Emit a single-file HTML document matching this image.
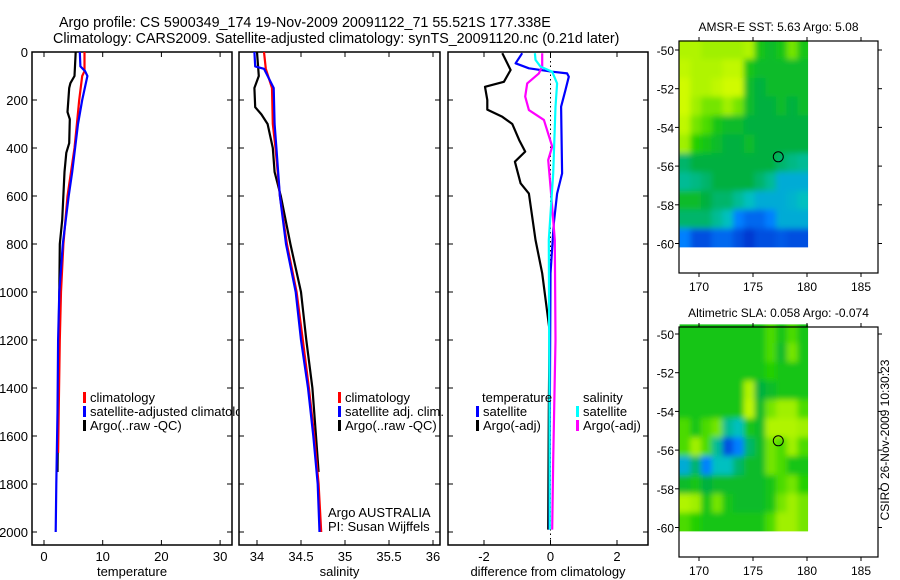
<!DOCTYPE html>
<html><head><meta charset="utf-8"><style>
body{margin:0;background:#fff;}
svg{display:block;font-family:"Liberation Sans",sans-serif;}
</style></head><body>
<svg id="fig" width="900" height="580" xmlns="http://www.w3.org/2000/svg">
<defs>
<filter id="blur" x="-5%" y="-5%" width="110%" height="110%"><feGaussianBlur stdDeviation="3"/></filter>
<clipPath id="leg1clip"><rect x="0" y="380" width="239" height="60"/></clipPath>
</defs>
<rect width="900" height="580" fill="#fff"/>
<text x="59" y="27" font-size="14.3">Argo profile: CS 5900349_174 19-Nov-2009 20091122_71 55.521S 177.338E</text>
<text x="53" y="43" font-size="14.3">Climatology: CARS2009. Satellite-adjusted climatology: synTS_20091120.nc (0.21d later)</text>
<g id="plots"></g>
<text transform="translate(889,440) rotate(-90)" font-size="12" text-anchor="middle">CSIRO 26-Nov-2009 10:30:23</text>
</svg>
<script>
// ---------- profile data ----------
const tempClimDepth=[0,80,100,200,300,400,500,600,800,1000,1200,1500,1670];
const tempClim=[6.9,6.9,6.5,6.0,5.6,5.2,4.6,4.0,3.3,2.9,2.7,2.5,2.4];
const tempSatDepth=[0,60,80,100,200,300,400,500,600,800,1000,1200,1500,1800,2000];
const tempSat=[6.1,6.2,7.0,7.4,6.5,5.8,5.3,4.8,4.2,3.2,2.6,2.4,2.3,2.1,2.0];
const tempArgoDepth=[0,100,130,150,250,280,380,420,500,700,800,1000,1200,1500,1750];
const tempArgo=[5.4,5.2,4.5,4.3,4.0,4.4,4.3,3.8,3.5,3.1,2.7,2.6,2.5,2.4,2.3];
const salClimDepth=[0,70,150,300,400,600,800,1000,1200,1400,1600,1800,2000];
const salClim=[34.08,34.1,34.17,34.18,34.21,34.26,34.34,34.45,34.52,34.59,34.65,34.70,34.73];
const salSatDepth=[0,60,70,150,300,400,600,800,1000,1200,1400,1600,1800,2000];
const salSat=[33.97,33.98,34.08,34.19,34.2,34.22,34.26,34.33,34.44,34.5,34.58,34.64,34.69,34.71];
const salArgoDepth=[0,100,150,230,260,300,400,500,600,800,1000,1200,1400,1600,1750];
const salArgo=[34.0,34.02,33.97,33.98,34.05,34.12,34.18,34.2,34.27,34.38,34.5,34.56,34.63,34.67,34.70];
const dTempArgoDepth=[5,75,124,145,200,240,270,300,367,415,457,547,590,783,922,1158,1500,1990];
const dTempArgo=[-1.45,-1.2,-1.4,-1.97,-1.9,-1.9,-1.45,-1.15,-0.94,-0.76,-1.07,-0.9,-0.65,-0.45,-0.25,-0.03,-0.05,-0.07];
const dTempSatDepth=[5,47,68,82,89,103,158,228,506,590,714,922,1500,1990];
const dTempSat=[-0.85,-1.05,-0.65,0.05,0.5,0.55,0.45,0.32,0.35,0.2,0.1,0.0,-0.02,-0.03];
const dSalSatDepth=[5,33,61,82,131,228,506,783,1500,1990];
const dSalSat=[-0.47,-0.45,-0.3,0.05,0.2,0.15,0.08,-0.05,-0.03,-0.02];
const dSalArgoDepth=[5,60,89,131,186,242,283,394,450,561,783,1200,1700,1990];
const dSalArgo=[-0.25,-0.25,-0.35,-0.7,-0.76,-0.65,-0.2,0.05,-0.07,0.0,0.13,0.15,0.08,0.05];
const depthTicks=[0,200,400,600,800,1000,1200,1400,1600,1800,2000];
const tempTicks=[0,10,20,30];
const salTicks=[34,34.5,35,35.5,36];
const diffTicks=[-2,0,2];
// ---------- map data (12 lon cols x 11 lat rows, 0..1 colour index) ----------
const mapLonTicks=[170,175,180,185];
const mapLatTicks=[-50,-52,-54,-56,-58,-60];
const sstGrid=[
[0.85,0.85,0.8,0.8,0.8,0.8,0.85,0.6,0.55,0.6,0.75,0.6],
[0.9,0.85,0.85,0.85,0.9,0.9,0.6,0.55,0.55,0.55,0.55,0.55],
[0.95,0.85,0.85,0.9,0.95,0.95,0.55,0.5,0.55,0.55,0.55,0.55],
[0.95,0.8,0.75,0.75,0.8,0.75,0.55,0.5,0.5,0.55,0.5,0.55],
[0.9,0.75,0.7,0.6,0.55,0.55,0.5,0.5,0.5,0.5,0.5,0.5],
[0.8,0.65,0.6,0.55,0.5,0.5,0.55,0.5,0.5,0.5,0.5,0.5],
[0.45,0.5,0.5,0.5,0.5,0.5,0.5,0.5,0.5,0.45,0.42,0.4],
[0.4,0.42,0.45,0.5,0.5,0.5,0.5,0.45,0.4,0.3,0.3,0.3],
[0.55,0.55,0.5,0.45,0.45,0.4,0.35,0.3,0.3,0.3,0.32,0.35],
[0.45,0.45,0.45,0.4,0.35,0.2,0.15,0.15,0.2,0.3,0.3,0.3],
[0.2,0.1,0.1,0.15,0.15,0.1,0.05,0.1,0.1,0.12,0.1,0.1]];
const slaGrid=[
[0.6,0.6,0.6,0.6,0.6,0.6,0.6,0.6,0.7,0.6,0.7,0.6],
[0.6,0.6,0.6,0.6,0.6,0.6,0.6,0.6,0.7,0.55,0.75,0.6],
[0.6,0.6,0.6,0.6,0.6,0.6,0.6,0.6,0.65,0.6,0.6,0.6],
[0.6,0.6,0.6,0.6,0.6,0.6,0.85,0.5,0.55,0.6,0.6,0.6],
[0.6,0.6,0.6,0.6,0.6,0.6,0.9,0.55,0.75,0.8,0.8,0.7],
[0.7,0.6,0.7,0.75,0.4,0.35,0.6,0.55,0.85,0.85,0.85,0.8],
[0.7,0.8,0.7,0.4,0.1,0.2,0.45,0.55,0.75,0.7,0.8,0.7],
[0.3,0.45,0.2,0.35,0.35,0.45,0.55,0.55,0.75,0.7,0.6,0.6],
[0.55,0.6,0.5,0.55,0.55,0.55,0.55,0.55,0.6,0.7,0.75,0.65],
[0.85,0.8,0.6,0.75,0.6,0.55,0.55,0.55,0.6,0.75,0.8,0.75],
[0.7,0.65,0.6,0.6,0.6,0.6,0.6,0.6,0.7,0.8,0.8,0.75]];
const argoLon=177.34, argoLat=-55.52;

const NS="http://www.w3.org/2000/svg";
const root=document.getElementById('plots');
function mk(tag,attrs,parent){const e=document.createElementNS(NS,tag);for(const k in attrs)e.setAttribute(k,attrs[k]);(parent||root).appendChild(e);return e;}

const yTop=52, yBot=545, dpx=0.24;
const yD=d=>yTop+d*dpx;
const panels=[
 {x0:32,x1:232,xs:v=>44+v*5.87,ticks:tempTicks,label:'temperature',name:'temperature-panel'},
 {x0:239,x1:440,xs:v=>257+(v-34)*88,ticks:salTicks,label:'salinity',name:'salinity-panel'},
 {x0:448,x1:648,xs:v=>550.5+v*33.25,ticks:diffTicks,label:'difference from climatology',name:'difference-panel'}];

panels.forEach((p,i)=>{
 const g=mk('g',{});
 
 
 mk('rect',{x:p.x0,y:yTop,width:p.x1-p.x0,height:yBot-yTop,fill:'none',stroke:'#000','stroke-width':1.5},g);
 depthTicks.forEach(d=>{
  const y=yD(d);
  mk('line',{x1:p.x0,x2:p.x0+5,y1:y,y2:y,stroke:'#000'},g);
  mk('line',{x1:p.x1-5,x2:p.x1,y1:y,y2:y,stroke:'#000'},g);
  if(i===0){const t=mk('text',{x:p.x0-4,y:y+5,'font-size':13,'text-anchor':'end'},g);t.textContent=d;
   
   }
 });
 p.ticks.forEach(v=>{
  const x=p.xs(v);
  mk('line',{x1:x,x2:x,y1:yBot,y2:yBot-5,stroke:'#000'},g);
  mk('line',{x1:x,x2:x,y1:yTop,y2:yTop+5,stroke:'#000'},g);
  const t=mk('text',{x:x,y:561,'font-size':13,'text-anchor':'middle'},g);t.textContent=v;
  
  
 });
 const l=mk('text',{x:(p.x0+p.x1)/2,y:576,'font-size':13,'text-anchor':'middle'},g);l.textContent=p.label;
 
 
 p.g=g;
});

function profile(p,depths,vals,color,name,w){
 const pts=depths.map((d,j)=>p.xs(vals[j]).toFixed(1)+','+yD(d).toFixed(1)).join(' ');
 const pl=mk('polyline',{points:pts,fill:'none',stroke:color,'stroke-width':w||2.2,'stroke-linejoin':'round'},p.g);
 
 
}
const [pT,pS,pD]=panels;
profile(pT,tempArgoDepth,tempArgo,'#000','temperature-argo-line');
profile(pT,tempClimDepth,tempClim,'#f00','temperature-climatology-line');
profile(pT,tempSatDepth,tempSat,'#00f','temperature-satellite-line');
profile(pS,salArgoDepth,salArgo,'#000','salinity-argo-line');
profile(pS,salClimDepth,salClim,'#f00','salinity-climatology-line');
profile(pS,salSatDepth,salSat,'#00f','salinity-satellite-line');
mk('line',{x1:pD.xs(0),x2:pD.xs(0),y1:yTop,y2:yBot,stroke:'#000','stroke-dasharray':'1.5,3'},pD.g);
profile(pD,dTempArgoDepth,dTempArgo,'#000','temp-diff-argo-line');
profile(pD,dTempSatDepth,dTempSat,'#00f','temp-diff-satellite-line');
profile(pD,dSalArgoDepth,dSalArgo,'#f0f','sal-diff-argo-line');
profile(pD,dSalSatDepth,dSalSat,'#0ff','sal-diff-satellite-line');

const legClip=mk('g',{'clip-path':'url(#leg1clip)'});
function legend(x,y,color,text,name,parent){
 if(color) mk('rect',{x:x-7,y:y-10,width:3,height:11,fill:color},parent);
 const t=mk('text',{x:x,y:y,'font-size':13},parent);t.textContent=text;
 
 
}
legend(90,402,'#f00','climatology','legend-climatology',legClip);
legend(90,416,'#00f','satellite-adjusted climatology','legend-satellite',legClip);
legend(90,430,'#000','Argo(..raw -QC)','legend-argo',legClip);
legend(345,402,'#f00','climatology','legend-sal-climatology');
legend(345,416,'#00f','satellite adj. clim.','legend-sal-satellite');
legend(345,430,'#000','Argo(..raw -QC)','legend-sal-argo');
legend(482,402,null,'temperature','legend-temperature-header');
legend(483,416,'#00f','satellite','legend-temp-satellite');
legend(483,430,'#000','Argo(-adj)','legend-temp-argo');
legend(583,402,null,'salinity','legend-salinity-header');
legend(583,416,'#0ff','satellite','legend-sal-sat');
legend(583,430,'#f0f','Argo(-adj)','legend-sal-argo-diff');
legend(328,517,null,'Argo AUSTRALIA','argo-australia-label');
legend(328,531,null,'PI: Susan Wijffels','pi-label');

// ---------- maps ----------
const stops=[[0,[0,32,192]],[0.2,[0,128,255]],[0.35,[0,192,192]],[0.5,[0,176,64]],[0.65,[32,208,0]],[0.8,[160,240,0]],[1,[224,255,0]]];
function cmap(v){for(let i=1;i<stops.length;i++){if(v<=stops[i][0]){const a=stops[i-1],b=stops[i],t=(v-a[0])/(b[0]-a[0]);return 'rgb('+a[1].map((c,k)=>Math.round(c+(b[1][k]-c)*t)).join(',')+')';}}return 'rgb(224,255,0)';}
let mapId=0;
function drawMap(fy0,fy1,latTop,grid,title,name){
 const fx0=679,fx1=878;
 const xs=lon=>699+(lon-170)*10.8;
 const ys=lat=>latTop+(-50-lat)*19.35;
 const g=mk('g',{});
 
 
 const lon0=168.2,lon1=180.1,lat0=-49.5,lat1=-60.2;
 const cid='mapclip'+(mapId++);
 const cp=mk('clipPath',{id:cid},g);
 mk('rect',{x:xs(lon0),y:ys(lat0),width:xs(lon1)-xs(lon0),height:ys(lat1)-ys(lat0)},cp);
 const cg=mk('g',{'clip-path':'url(#'+cid+')'},g);
 const bg=mk('g',{filter:'url(#blur)'},cg);
 const nr=grid.length,nc=grid[0].length;
 const cw=(lon1-lon0)/nc, ch=(lat0-lat1)/nr;
 grid.forEach((row,r)=>row.forEach((v,c)=>{
  const x=xs(lon0+c*cw), y=ys(lat0-r*ch);
  let w=xs(lon0+(c+1)*cw)-x+0.5, h=ys(lat0-(r+1)*ch)-y+0.5;
  let xx=x, yy=y;
  if(c===0){xx-=8;w+=8;} if(c===nc-1){w+=8;}
  if(r===0){yy-=8;h+=8;} if(r===nr-1){h+=8;}
  const cell=mk('rect',{x:xx.toFixed(1),y:yy.toFixed(1),width:w.toFixed(1),height:h.toFixed(1),fill:cmap(v)},bg);
  
  
 }));
 mk('rect',{x:fx0,y:fy0,width:fx1-fx0,height:fy1-fy0,fill:'none',stroke:'#000','stroke-width':1.2},g);
 mapLatTicks.forEach(lat=>{const y=ys(lat);
  mk('line',{x1:fx0-4,x2:fx0,y1:y,y2:y,stroke:'#000'},g);
  mk('line',{x1:fx1,x2:fx1+4,y1:y,y2:y,stroke:'#000'},g);
  const t=mk('text',{x:fx0-5,y:y+5,'font-size':12,'text-anchor':'end'},g);t.textContent=lat;
  
  });
 mapLonTicks.forEach(lon=>{const x=xs(lon);
  mk('line',{x1:x,x2:x,y1:fy1,y2:fy1+4,stroke:'#000'},g);
  mk('line',{x1:x,x2:x,y1:fy0-4,y2:fy0,stroke:'#000'},g);
  const t=mk('text',{x:x,y:fy1+18,'font-size':12,'text-anchor':'middle'},g);t.textContent=lon;
  
  });
 const c=mk('circle',{cx:xs(argoLon),cy:ys(argoLat),r:5,fill:'none',stroke:'#000','stroke-width':1},g);
 
 
 const t=mk('text',{x:(fx0+fx1)/2,y:fy0-10,'font-size':12,'text-anchor':'middle'},g);t.textContent=title;
 
 
}
drawMap(41,273,50,sstGrid,'AMSR-E SST: 5.63 Argo: 5.08','sst-map');
drawMap(327,557,334,slaGrid,'Altimetric SLA: 0.058 Argo: -0.074','sla-map');
</script>
</body></html>
